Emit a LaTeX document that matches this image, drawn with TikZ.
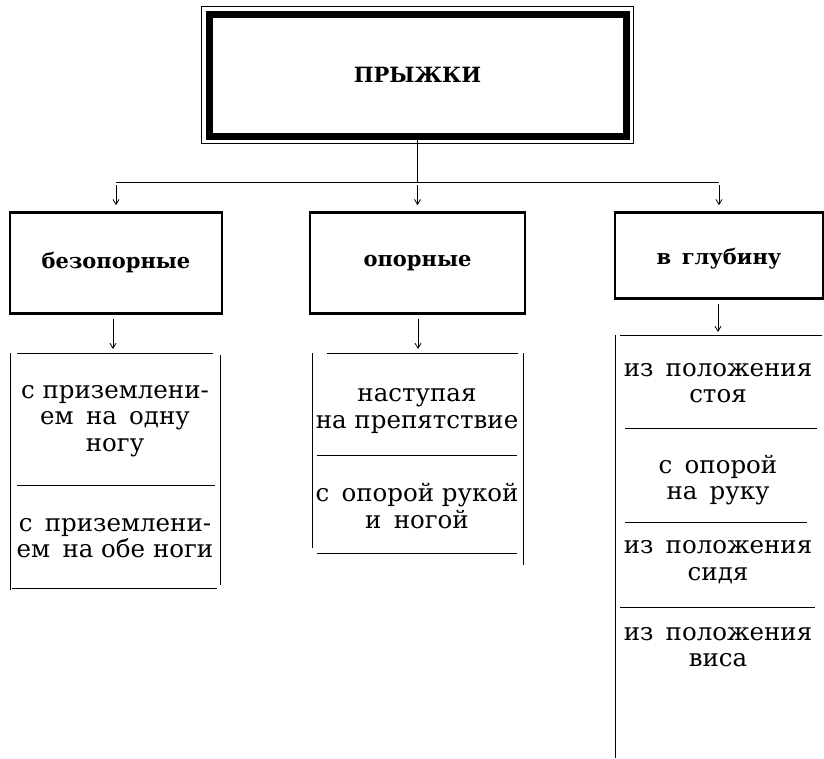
\documentclass[tikz,border=0pt]{standalone}
\usepackage{fontspec}
\setmainfont{DejaVu Serif}
\usetikzlibrary{arrows.meta}

\begin{document}
\begin{tikzpicture}[x=1pt,y=-1pt,
  headbox/.style={draw,line width=1.6pt,minimum height=100pt,inner sep=0pt,font=\fontsize{21}{25}\selectfont\bfseries},
  item/.style={align=center,inner sep=0pt,font=\fontsize{24.5}{26.5}\selectfont},
  frame/.style={line width=1pt},
  sep/.style={line width=0.7pt},
  arr/.style={-{Straight Barb[length=5pt,width=6pt]},line width=0.8pt}]
\useasboundingbox[fill=white] (0,0) rectangle (824,758);

\node[draw,line width=7pt,minimum width=417pt,minimum height=122pt,font=\fontsize{21}{25}\selectfont\bfseries] (top) at (417.5,75) {ПРЫЖКИ};
\draw[line width=0.8pt] ([shift={(-4,-4)}]top.north west) rectangle ([shift={(4,4)}]top.south east);

\node[headbox,minimum width=212pt] (bez) at (116,263) {безопорные};
\node[headbox,minimum width=215pt] (opor) at (417.5,263) {опорные};
\node[headbox,minimum width=208pt,minimum height=85pt,text height=22pt] (glub) at (719,255.5) {в\enspace глубину};
\foreach \n in {bez,opor,glub}
  \draw[line width=3pt] (\n.north west) -- (\n.north east) (\n.south west) -- (\n.south east);

\coordinate (bar) at (418,182);
\draw[line width=0.8pt] (top.south) -- (top.south |- bar);
\draw[line width=0.8pt] (bez.north |- bar) -- (glub.north |- bar);
\foreach \n in {bez,opor,glub}
  \draw[arr,shorten <=3pt,shorten >=7pt] (\n.north |- bar) -- (\n.north);

\coordinate (bezlist) at (113,353);
\coordinate (oporlist) at (418,353);
\coordinate (glublist) at (718,335);
\draw[arr,shorten <=5pt,shorten >=4pt] (bez.south -| bezlist) -- (bezlist);
\draw[arr,shorten <=5pt,shorten >=4pt] (opor.south -| oporlist) -- (oporlist);
\draw[arr,shorten <=5pt,shorten >=3pt] (glub.south -| glublist) -- (glublist);

\node[item] (bez1) at (115,421) {с приземлени-\\ем\enspace на\enspace одну\\ногу};
\node[item] (bez2) at (115,538) {с\enspace приземлени-\\ем\enspace на обе ноги};
\draw[frame] (17,353) -- (213,353);
\draw[frame] (10,353) -- (10,590);
\draw[frame] (220,355) -- (220,585);
\draw[sep] (17,485) -- (215,485);
\draw[frame] (12,588) -- (217,588);

\node[item] (opor1) at (417,411) {наступая\\на препятствие};
\node[item] (opor2) at (417,506) {с\enspace опорой рукой\\и\enspace ногой};
\draw[frame] (327,353) -- (518,353);
\draw[frame] (312,353) -- (312,548);
\draw[frame] (523,353) -- (523,565);
\draw[sep] (317,455) -- (517,455);
\draw[frame] (317,553) -- (517,553);

\node[item] (glub1) at (718,383) {из\enspace положения\\стоя};
\node[item] (glub2) at (718,480) {с\enspace опорой\\на\enspace руку};
\node[item] (glub3) at (718,562) {из\enspace положения\\сидя};
\node[item] (glub4) at (718,647) {из\enspace положения\\виса};
\draw[frame] (620,335) -- (822,335);
\draw[frame] (615,335) -- (615,758);
\draw[sep] (625,428) -- (817,428);
\draw[sep] (625,522) -- (807,522);
\draw[sep] (620,607) -- (815,607);
\end{tikzpicture}
\end{document}
